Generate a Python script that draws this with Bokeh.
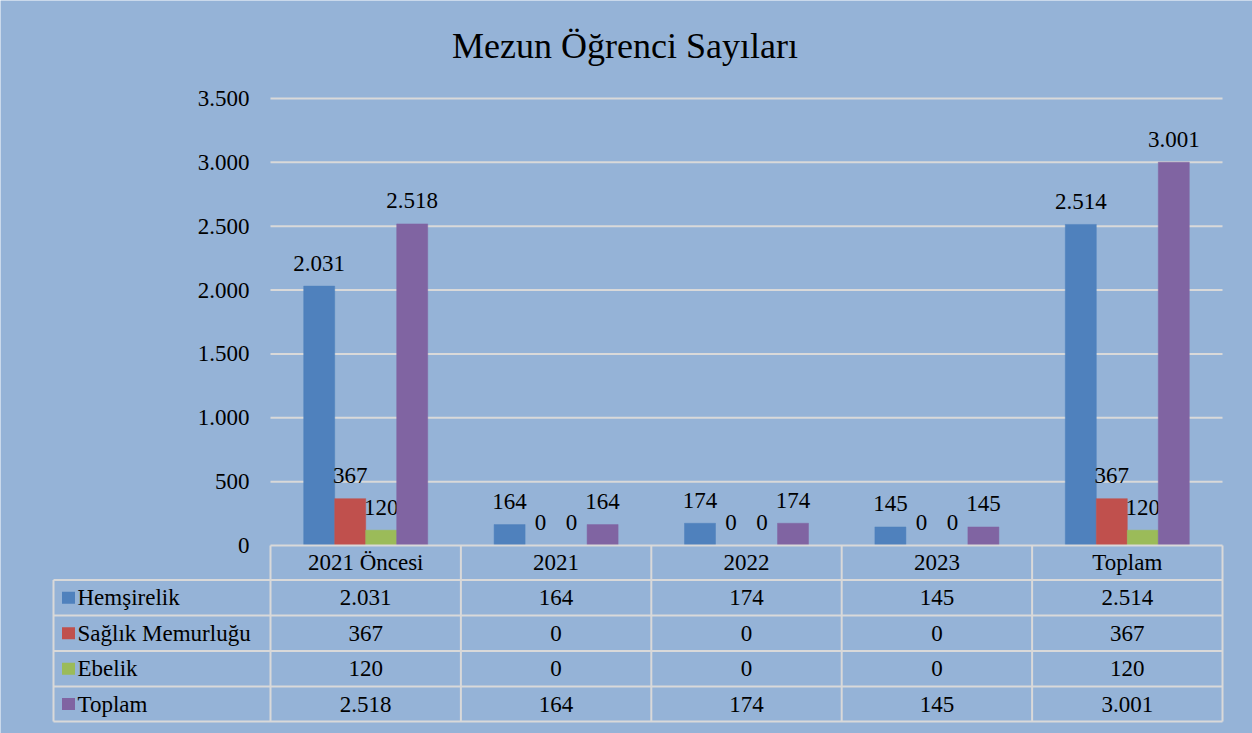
from bokeh.plotting import figure
from bokeh.models import ColumnDataSource, Range1d
from bokeh.core.properties import value
from bokeh.embed import file_html
from bokeh.resources import INLINE

# ---------------- data ----------------
categories = ["2021 Öncesi", "2021", "2022", "2023", "Toplam"]
series_names = ["Hemşirelik", "Sağlık Memurluğu", "Ebelik", "Toplam"]
hemsirelik = [2031, 164, 174, 145, 2514]
saglik_memurlugu = [367, 0, 0, 0, 367]
ebelik = [120, 0, 0, 0, 120]
toplam = [2518, 164, 174, 145, 3001]
series_colors = ["#4F81BD", "#C0504D", "#9BBB59", "#8064A2"]
y_ticks = [0, 500, 1000, 1500, 2000, 2500, 3000, 3500]
title_text = "Mezun Öğrenci  Sayıları"

series_values = [hemsirelik, saglik_memurlugu, ebelik, toplam]


def fmt(v):
    return f"{v:,}".replace(",", ".")


# ---------------- layout (pixel geometry -> data units) ----------------
W, H = 1252, 733
PAGE = 0
SX = 190.4              # px per category
SY = 447.0 / 3500.0     # px per value unit
X0 = 270                # px of x = 0 (left of plot area)
Y0 = 545                # px of y = 0


def xd(px):
    return (px - X0) / SX


def yd(py):
    return (Y0 - py) / SY


BG = "#95B3D7"
LINE = "#D9D9D9"
FONT = value("Liberation Serif")
FS = "23px"

p = figure(width=W, height=H, output_backend="svg", toolbar_location=None,
           x_range=Range1d(xd(PAGE), xd(PAGE + W)),
           y_range=Range1d(yd(PAGE + H), yd(PAGE)),
           x_axis_location=None, y_axis_location=None,
           min_border=0, min_border_left=0, min_border_right=0,
           min_border_top=0, min_border_bottom=0)
p.background_fill_color = BG
p.border_fill_color = BG
p.outline_line_color = None
p.grid.visible = False

n = len(categories)

# gridlines
grid_src = ColumnDataSource(dict(x0=[0] * (len(y_ticks) - 1), x1=[n] * (len(y_ticks) - 1),
                                 y=y_ticks[1:]))
p.segment(x0="x0", y0="y", x1="x1", y1="y", source=grid_src, line_color=LINE, line_width=2)

# y tick labels
p.text(x=[xd(249)] * len(y_ticks), y=y_ticks, text=[fmt(v) for v in y_ticks],
       text_align="right", text_baseline="middle", text_font=FONT,
       text_font_size=FS, text_color="#000000")

# bars + labels
bw = 31 / SX
for k, (vals, col) in enumerate(zip(series_values, series_colors)):
    off = (k - 1.5) * bw
    xs = [i + 0.5 + off for i in range(n)]
    src = ColumnDataSource(dict(x=xs, top=vals, lab=[fmt(v) for v in vals]))
    p.vbar(x="x", top="top", bottom=0, width=bw, source=src,
           fill_color=col, line_color=col, line_width=0.5)
    p.text(x="x", y="top", text="lab", source=src, text_align="center",
           text_baseline="middle", y_offset=-23, text_font=FONT,
           text_font_size=FS, text_color="#000000")

# ---------------- data table ----------------
row_edges_px = [545, 579.5, 615, 650.5, 686, 721]
left_px = 53
# horizontal lines
hx0, hx1, hy = [], [], []
for j, ry in enumerate(row_edges_px):
    hx0.append(0 if j == 0 else xd(left_px))
    hx1.append(n)
    hy.append(yd(ry))
p.segment(x0=hx0, y0=hy, x1=hx1, y1=hy, line_color=LINE, line_width=2)
# vertical lines
vx, vy0, vy1 = [], [], []
for i in range(n + 1):
    vx.append(i)
    vy0.append(yd(row_edges_px[0]))
    vy1.append(yd(row_edges_px[-1]))
vx.append(xd(left_px))
vy0.append(yd(row_edges_px[1]))
vy1.append(yd(row_edges_px[-1]))
p.segment(x0=vx, y0=vy0, x1=vx, y1=vy1, line_color=LINE, line_width=2)

# header (categories)
hdr_y = yd((row_edges_px[0] + row_edges_px[1]) / 2)
p.text(x=[i + 0.5 for i in range(n)], y=[hdr_y] * n, text=categories,
       text_align="center", text_baseline="middle", text_font=FONT,
       text_font_size=FS, text_color="#000000")

# rows
for k, (name, vals, col) in enumerate(zip(series_names, series_values, series_colors)):
    cy_px = (row_edges_px[k + 1] + row_edges_px[k + 2]) / 2
    cy = yd(cy_px)
    p.text(x=[i + 0.5 for i in range(n)], y=[cy] * n, text=[fmt(v) for v in vals],
           text_align="center", text_baseline="middle", text_font=FONT,
           text_font_size=FS, text_color="#000000")
    p.rect(x=[xd(68)], y=[cy], width=13 / SX, height=12 / SY,
           fill_color=col, line_color=None)
    p.text(x=[xd(77)], y=[cy], text=[name], text_align="left",
           text_baseline="middle", text_font=FONT, text_font_size=FS,
           text_color="#000000")

# title
p.text(x=[xd(629)], y=[yd(45)], text=[title_text], text_align="center",
       text_baseline="middle", text_font=FONT, text_font_size="36px",
       text_color="#000000")

open("out.html", "w").write(file_html(p, INLINE))
